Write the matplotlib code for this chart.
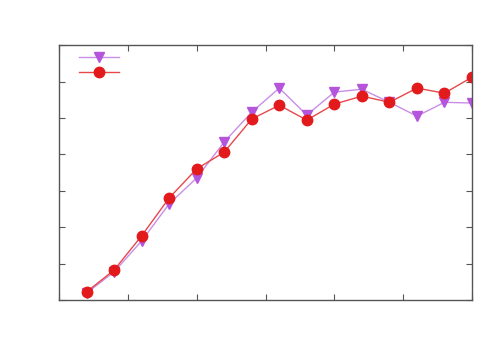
import numpy as np
import matplotlib.pyplot as plt

x_vals = [0.4, 0.8, 1.2, 1.6, 2.0, 2.4, 2.8, 3.2, 3.6, 4.0, 4.4, 4.8, 5.2, 5.6, 6.0]
series_purple = [0.19, 0.77, 1.62, 2.64, 3.35, 4.34, 5.16, 5.82, 5.08, 5.71, 5.79, 5.43, 5.05, 5.43, 5.41]
series_red = [0.22, 0.82, 1.76, 2.80, 3.60, 4.06, 4.97, 5.35, 4.94, 5.38, 5.60, 5.43, 5.82, 5.68, 6.12]

PURPLE_LINE = '#c98ee6'
PURPLE_MARK = '#b455dc'
RED_LINE = '#e8474a'
RED_MARK = '#e31a1c'

fig = plt.figure(figsize=(5, 3.5), dpi=100)
ax = fig.add_axes([0.118, 0.143, 0.826, 0.728])

ax.plot(x_vals, series_purple, color=PURPLE_LINE, lw=1.0,
        marker='v', ms=6.5, mfc=PURPLE_MARK, mec=PURPLE_MARK, label=' ')
ax.plot(x_vals, series_red, color=RED_LINE, lw=1.0,
        marker='o', ms=7.5, mfc=RED_MARK, mec=RED_MARK, label=' ')

ax.set_xlim(0, 6)
ax.set_ylim(0, 7)
ax.set_xticks(np.arange(0, 7, 1))
ax.set_yticks(np.arange(0, 8, 1))
ax.tick_params(direction='in', length=4, top=True, right=True,
               labelbottom=False, labelleft=False, color='#555555')
for sp in ax.spines.values():
    sp.set_color('#555555')
    sp.set_linewidth(1.0)

leg = ax.legend(loc='upper left', frameon=False, handlelength=3.6, fontsize=8,
                bbox_to_anchor=(0.037, 0.986), labelspacing=0.45, borderaxespad=0.0)

fig.savefig('out.png', dpi=100)
